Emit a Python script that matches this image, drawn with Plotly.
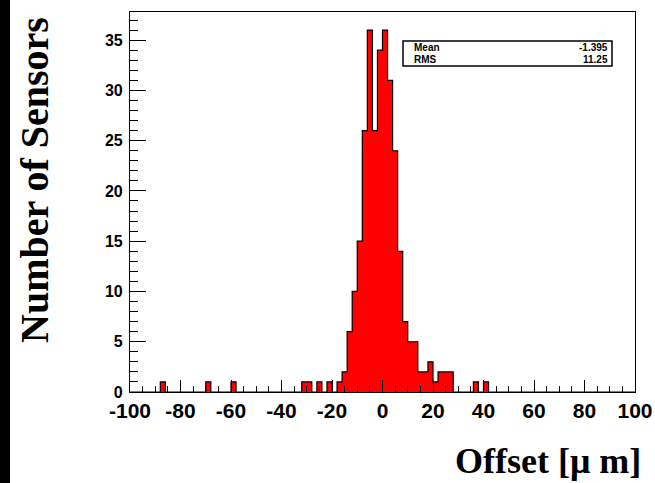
import plotly.graph_objects as go

# ---- data ----
bin_width = 2
x_min, x_max = -100, 100
bin_low = [-88, -70, -60, -32, -30, -26, -22, -18, -16, -14, -12, -10, -8, -6, -4, -2,
           0, 2, 4, 6, 8, 10, 12, 14, 16, 18, 20, 22, 24, 26, 36, 40]
counts = [1, 1, 1, 1, 1, 1, 1, 1, 2, 6, 10, 15, 26, 36, 26, 34,
          36, 31, 24, 14, 7, 5, 5, 2, 2, 3, 1, 2, 2, 2, 1, 1]
stat_names = ["Mean", "RMS"]
stat_values = ["-1.395", "11.25"]
x_tick_vals = [-100, -80, -60, -40, -20, 0, 20, 40, 60, 80, 100]
x_tick_text = ["-100", "-80", "-60", "-40", "-20", "0", "20", "40", "60", "80", "100"]
y_tick_vals = [0, 5, 10, 15, 20, 25, 30, 35]
y_tick_text = ["0", "5", "10", "15", "20", "25", "30", "35"]

# build full histogram over all bins
n_bins = (x_max - x_min) // bin_width
edges = [x_min + i * bin_width for i in range(n_bins + 1)]
full = [0] * n_bins
for lo, c in zip(bin_low, counts):
    full[(lo - x_min) // bin_width] = c
step_y = full + [full[-1]]

fig = go.Figure()
fig.add_trace(go.Scatter(
    x=edges, y=step_y, mode="lines", line_shape="hv",
    line=dict(color="black", width=1.2),
    fill="tozeroy", fillcolor="#ff0000", hoverinfo="skip", showlegend=False,
))

L, R, T, B = 130, 20, 12, 91
W, H = 655, 483
pw, ph = W - L - R, H - T - B

def px2x(px):
    return (px - L) / pw

def py2y(py):
    return (H - B - py) / ph

fig.update_layout(
    width=W, height=H,
    margin=dict(l=L, r=R, t=T, b=B, pad=0, autoexpand=False),
    paper_bgcolor="white", plot_bgcolor="white",
    showlegend=False,
    xaxis=dict(
        range=[x_min, x_max], tickmode="array", tickvals=x_tick_vals, ticktext=x_tick_text,
        ticks="inside", ticklen=12, tickwidth=1, tickcolor="black",
        minor=dict(ticks="inside", ticklen=6, dtick=5, tickcolor="black", tickwidth=1, showgrid=False),
        showline=True, linecolor="black", linewidth=1.2, mirror=True,
        showgrid=False, zeroline=False, automargin=False,
        tickfont=dict(family="Liberation Sans, Arial", size=21, color="black", weight="bold"),
        ticklabelstandoff=0,
    ),
    yaxis=dict(
        range=[0, 37.8], tickmode="array", tickvals=y_tick_vals, ticktext=y_tick_text,
        ticks="inside", ticklen=16, tickwidth=1, tickcolor="black",
        minor=dict(ticks="inside", ticklen=8, dtick=1, tickcolor="black", tickwidth=1, showgrid=False),
        showline=True, linecolor="black", linewidth=1.2, mirror=True,
        showgrid=False, zeroline=False, automargin=False,
        tickfont=dict(family="Liberation Sans, Arial", size=16, color="black", weight="bold"),
        ticklabelstandoff=3,
    ),
)

# black strip at left edge of the image
fig.add_shape(type="rect", xref="paper", yref="paper",
              x0=px2x(-5), x1=px2x(10), y0=py2y(H + 5), y1=py2y(-5),
              fillcolor="black", line=dict(width=0), layer="above")

# axis titles
fig.add_annotation(text="<b>Number of Sensors</b>", xref="paper", yref="paper",
                   x=px2x(34), y=py2y(180), textangle=-90, showarrow=False,
                   xanchor="center", yanchor="middle",
                   font=dict(family="Liberation Serif, Times New Roman", size=40, color="black"))
fig.add_annotation(text="<b>Offset [μ m]</b>", xref="paper", yref="paper",
                   x=px2x(643), y=py2y(461), showarrow=False,
                   xanchor="right", yanchor="middle",
                   font=dict(family="Liberation Serif, Times New Roman", size=36, color="black"))

# stats box
bx0, bx1, by0, by1 = 403, 612, 41, 66
fig.add_shape(type="rect", xref="paper", yref="paper",
              x0=px2x(bx0), x1=px2x(bx1), y0=py2y(by1), y1=py2y(by0),
              fillcolor="white", line=dict(color="black", width=1.5), layer="above")
row_y = [47.5, 59.5]
for name, val, yy in zip(stat_names, stat_values, row_y):
    fig.add_annotation(text="<b>" + name + "</b>", xref="paper", yref="paper",
                       x=px2x(412), y=py2y(yy), showarrow=False,
                       xanchor="left", yanchor="middle",
                       font=dict(family="Liberation Sans, Arial", size=10, color="black"))
    fig.add_annotation(text="<b>" + val + "</b>", xref="paper", yref="paper",
                       x=px2x(610), y=py2y(yy), showarrow=False,
                       xanchor="right", yanchor="middle",
                       font=dict(family="Liberation Sans, Arial", size=10, color="black"))

fig.write_html("out.html")
